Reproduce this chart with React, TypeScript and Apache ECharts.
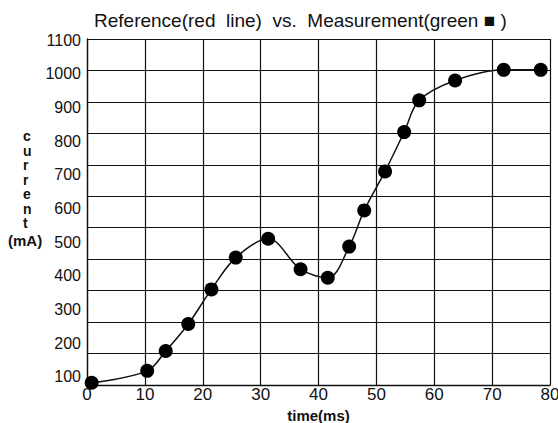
import React, { useEffect, useRef } from "react";
import * as echarts from "echarts";

const timeMs = [0.8, 10.4, 13.6, 17.5, 21.5, 25.7, 31.3, 36.9, 41.6, 45.3, 47.9, 51.5, 54.8, 57.4, 63.6, 72.0, 78.4];
const currentMA = [7, 45, 108, 194, 304, 405, 465, 368, 341, 440, 555, 679, 804, 905, 968, 1002, 1002];
const yTickLabels = [100, 200, 300, 400, 500, 600, 700, 800, 900, 1000, 1100];
const titleText = "Reference(red  line)  vs.  Measurement(green \u25A0 )";
const FONT = "'Liberation Sans', Arial, sans-serif";

export default function App() {
  const ref = useRef<HTMLDivElement>(null);
  useEffect(() => {
    if (!ref.current) return;
    const chart = echarts.init(ref.current, null, { renderer: "svg" });
    const points = timeMs.map((t, i) => [t, currentMA[i]]);
    chart.setOption({
      animation: false,
      backgroundColor: "#ffffff",
      title: {
        text: titleText,
        left: 89,
        top: 6,
        textStyle: { fontFamily: FONT, fontSize: 19, fontWeight: "normal", color: "#111" },
      },
      grid: {
        left: 87,
        right: 8,
        top: 39,
        bottom: 38,
        containLabel: false,
        outerBoundsMode: "none",
      },
      xAxis: {
        type: "value",
        min: 0,
        max: 80,
        interval: 10,
        axisLine: { show: true, onZero: false, lineStyle: { color: "#111", width: 1.3 } },
        axisTick: { show: false },
        splitLine: { show: true, lineStyle: { color: "#111", width: 1.2 } },
        axisLabel: { fontFamily: FONT, fontSize: 17, color: "#111", margin: 1 },
        name: "time(ms)",
        nameLocation: "middle",
        nameGap: 21,
        nameTextStyle: { fontFamily: FONT, fontSize: 15, fontWeight: "bold", color: "#111" },
      },
      yAxis: [
        {
          type: "value",
          min: 0,
          max: 1100,
          interval: 100,
          axisLine: { show: true, onZero: false, lineStyle: { color: "#111", width: 1.3 } },
          axisTick: { show: false },
          axisLabel: { show: false },
          splitLine: { show: true, lineStyle: { color: "#111", width: 1.2 } },
        },
        {
          type: "value",
          position: "left",
          min: 76,
          max: 1103,
          axisLine: { show: false },
          axisTick: { show: false },
          splitLine: { show: false },
          axisLabel: {
            show: true,
            customValues: yTickLabels,
            formatter: (v: number) => String(v),
            fontFamily: FONT,
            fontSize: 16,
            color: "#111",
            margin: 6,
          },
        },
      ],
      graphic: [
        {
          type: "text",
          left: 23,
          top: 129,
          style: {
            text: "c\nu\nr\nr\ne\nn\nt",
            font: "bold 14px 'Liberation Sans', Arial, sans-serif",
            lineHeight: 14.5,
            fill: "#111",
            align: "center",
          },
        },
        {
          type: "text",
          left: 8,
          top: 233,
          style: {
            text: "(mA)",
            font: "bold 15px 'Liberation Sans', Arial, sans-serif",
            fill: "#111",
          },
        },
      ],
      series: [
        {
          type: "line",
          yAxisIndex: 0,
          data: points,
          smooth: 0.35,
          symbol: "circle",
          symbolSize: 14,
          showAllSymbol: true,
          lineStyle: { color: "#111", width: 1.5 },
          itemStyle: { color: "#000" },
        },
      ],
    });
    return () => chart.dispose();
  }, []);
  return (
    <div
      ref={ref}
      style={{ position: "fixed", left: 0, top: 0, width: 558, height: 423 }}
    />
  );
}
